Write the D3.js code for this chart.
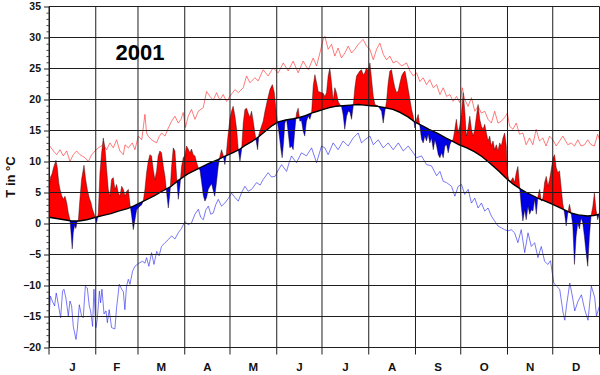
<!DOCTYPE html>
<html><head><meta charset="utf-8">
<script src="https://cdn.jsdelivr.net/npm/d3@7"></script>
<style>
html,body{margin:0;padding:0;background:#fff;}
svg{display:block;font-family:"Liberation Sans",Arial,sans-serif;}
</style></head><body>
<svg id="chart" width="600" height="375"></svg>
<script>
const chartTitle = "2001";
const yAxisTitle = "T in °C";
const monthLabels = ["J","F","M","A","M","J","J","A","S","O","N","D"];
const monthStartDays = [0,31,59,90,120,151,181,212,243,273,304,334,365];
const yTickValues = [35,30,25,20,15,10,5,0,-5,-10,-15,-20];

// daily mean temperature 2001 [day of year, °C]
const actualSeries = [
[0,5.5],[1,7.5],[2,8.0],[3,9.0],[4.6,10.2],[5.5,9.0],[6.5,6.5],[7.3,5.5],[8.4,4.5],[9.5,3.9],
[10.6,4.4],[11.7,3.4],[12.8,1.7],[13.9,0.6],[14.7,-1.8],[15.4,-4.1],[16.1,-1.5],[17.0,-0.3],[17.8,-0.8],[18.6,0.2],
[19.5,0.6],[20.5,3.9],[21.6,7.1],[23.2,9.4],[24.3,7.1],[25.4,5.5],[26.7,4.1],[27.8,3.4],[28.9,2.2],[30.0,1.5],
[31.6,0.1],[32.7,1.7],[33.8,8.2],[34.9,11.4],[36.0,13.8],[37.1,12.2],[38.2,8.7],[39.3,5.5],[40.4,4.4],[41.5,7.1],
[42.6,7.4],[43.7,5.5],[44.8,6.3],[45.9,5.0],[47.0,4.4],[48.2,6.0],[49.3,5.5],[50.4,4.4],[51.5,5.2],[52.6,5.5],
[53.7,3.1],[54.8,1.2],[55.9,-1.0],[57.0,0.6],[58.1,2.2],[59.2,2.5],[60.3,2.8],[61.4,3.0],[62.5,3.6],[63.6,5.5],
[64.7,8.2],[65.8,10.0],[66.9,11.1],[68.0,10.9],[69.1,8.7],[70.2,7.1],[71.3,8.4],[72.4,10.9],[73.5,11.7],[74.6,11.4],
[75.8,9.2],[76.9,7.6],[78.0,4.9],[79.1,2.5],[80.2,4.9],[81.3,9.2],[82.4,12.2],[83.5,11.7],[84.6,7.6],[85.7,3.9],
[86.8,6.0],[87.9,9.2],[89.0,10.6],[90.1,11.0],[91.2,12.5],[92.3,12.0],[93.4,11.4],[94.5,12.0],[95.6,11.1],[96.8,10.9],
[97.9,9.8],[99.0,9.0],[100.1,8.6],[101.2,6.6],[102.3,4.5],[103.4,3.6],[104.5,4.2],[105.6,5.5],[106.7,6.0],[107.8,6.4],
[108.9,5.3],[109.9,4.4],[111.0,6.5],[112.2,9.2],[113.3,10.8],[114.4,11.9],[115.5,11.0],[116.6,9.5],[117.5,11.0],[118.4,13.5],
[119.9,16.8],[121.0,18.1],[122.1,18.9],[123.3,17.3],[124.4,15.2],[125.5,11.9],[126.6,10.0],[127.7,11.9],[128.8,16.2],[129.9,18.4],
[131.0,18.6],[132.1,17.8],[133.2,17.1],[134.3,18.1],[135.4,16.5],[136.5,14.6],[137.6,13.0],[138.3,11.9],[139.2,14.4],[140.5,15.4],
[142.0,16.5],[143.2,18.1],[144.9,20.0],[146.5,21.6],[148.1,22.4],[149.4,21.1],[150.3,18.9],[151.2,16.8],[152.5,14.6],[153.8,11.9],
[154.6,10.6],[155.5,13.0],[156.4,16.2],[157.5,16.8],[158.6,14.6],[159.7,12.2],[160.8,12.5],[161.9,11.9],[163.0,15.1],[164.1,17.8],
[165.2,18.6],[166.3,16.5],[167.4,16.6],[168.5,14.9],[169.6,14.1],[170.7,16.5],[171.9,17.3],[173.0,16.8],[174.1,17.8],[175.2,22.2],
[176.3,24.0],[177.4,22.7],[178.5,21.3],[179.6,21.2],[180.7,21.1],[181.8,21.0],[182.9,20.5],[184.0,21.1],[185.1,23.8],[186.2,25.1],
[187.3,22.7],[188.4,19.7],[189.5,21.9],[190.6,21.1],[191.7,19.7],[192.8,19.2],[193.9,18.9],[195.0,17.6],[196.1,15.2],[197.3,17.3],
[198.4,18.1],[199.5,18.0],[200.6,16.8],[201.7,18.9],[202.8,21.9],[203.9,23.8],[206.1,24.6],[207.2,24.8],[208.3,24.0],[209.4,24.3],
[210.5,25.1],[211.6,24.6],[212.8,25.9],[213.9,23.2],[215.0,20.5],[216.1,19.2],[218.3,18.9],[220.5,18.1],[221.6,16.2],[222.7,18.1],
[223.8,19.7],[224.9,22.7],[226.0,24.6],[227.1,24.8],[228.2,23.2],[229.3,21.9],[230.5,21.1],[231.6,21.4],[232.7,22.7],[233.8,23.8],
[234.9,24.3],[236.0,24.6],[237.1,23.2],[238.2,21.6],[239.3,20.0],[240.4,18.4],[241.5,17.3],[242.6,15.4],[243.7,16.8],[244.8,17.6],
[245.9,15.7],[247.0,13.6],[248.1,13.0],[249.2,14.1],[250.3,13.3],[251.4,14.4],[252.5,13.0],[253.6,13.8],[254.8,11.9],[255.9,13.5],
[257.0,12.5],[258.1,11.1],[259.2,10.6],[260.3,11.4],[261.4,10.6],[262.5,12.5],[263.6,12.7],[264.7,11.4],[265.8,12.7],[266.9,13.3],
[268.0,13.6],[269.1,15.2],[270.1,16.8],[271.2,14.6],[272.3,15.7],[273.5,17.8],[274.6,21.1],[275.6,18.4],[276.7,14.1],[277.9,15.4],
[279.0,17.3],[280.1,15.2],[281.2,14.1],[282.3,15.2],[283.4,17.3],[284.5,19.2],[285.6,16.8],[286.7,15.7],[287.8,15.2],[288.9,16.0],
[290.0,14.6],[291.1,13.3],[292.2,14.1],[293.3,12.5],[294.4,13.3],[295.5,11.9],[296.6,12.7],[297.7,11.7],[298.8,13.0],[299.9,12.5],
[301.0,13.8],[302.1,14.6],[303.2,12.5],[303.9,8.2],[304.8,7.1],[306.1,6.8],[307.6,7.4],[308.7,6.6],[309.8,8.2],[310.9,9.2],
[312.0,6.0],[313.1,2.8],[314.2,0.4],[315.4,2.2],[316.4,0.6],[317.6,2.8],[318.7,1.5],[319.8,2.2],[320.9,2.0],[322.0,3.9],
[323.1,1.5],[324.2,4.4],[325.3,5.5],[326.4,3.6],[327.5,4.1],[328.6,6.6],[329.7,7.6],[330.8,6.0],[331.9,7.1],[333.0,8.7],
[334.2,10.6],[335.2,11.1],[336.3,9.0],[337.4,8.2],[338.5,8.5],[339.7,5.5],[340.7,3.1],[341.8,1.7],[342.9,-0.4],[344.0,1.7],
[345.1,3.1],[346.2,1.7],[347.3,-0.4],[348.4,-6.6],[349.5,-2.1],[350.6,0.1],[351.7,-0.9],[352.8,0.9],[353.9,0.1],[355.0,-2.1],
[356.1,-4.7],[357.2,-6.9],[358.3,-2.1],[359.4,1.2],[360.6,2.8],[361.6,4.9],[362.7,2.2],[363.8,0.6],[365.0,1.7]
];

// long-term daily mean
const meanSeries = [
[0,1.0],[5,0.8],[10,0.6],[15,0.4],[20,0.4],[25,0.6],[31,1.0],[36,1.3],[41,1.6],[46,2.0],
[52,2.4],[56,2.8],[60,3.3],[65,3.9],[70,4.5],[75,5.2],[81,6.0],[86,7.0],[92,8.0],[97,8.6],
[101,9.1],[106,9.7],[112,10.3],[116,10.8],[121,11.3],[126,11.9],[130,12.6],[135,13.3],[139,14.0],[143,14.8],
[148,15.8],[152,16.4],[157,16.7],[162,16.9],[166,17.1],[170,17.4],[174,17.8],[178,18.1],[182,18.4],[186,18.7],
[190,18.9],[195,19.0],[200,19.1],[205,19.2],[209,19.1],[213,19.0],[218,18.9],[222,18.7],[228,18.4],[233,17.9],
[238,17.2],[243,16.3],[248,15.7],[252,15.2],[258,14.5],[263,13.8],[268,13.2],[272,12.7],[277,12.2],[282,11.6],
[287,10.8],[292,9.8],[298,8.5],[304,7.1],[308,6.3],[313,5.5],[318,4.8],[324,4.1],[329,3.6],[334,3.1],
[340,2.4],[346,1.7],[351,1.4],[357,1.2],[361,1.3],[365,1.5]
];

// long-term daily maximum
const maxSeries = [
[0,12.7],[2.9,11.7],[5.1,11.1],[7.3,11.9],[9.5,10.9],[11.7,11.7],[13.9,10.0],[16.1,11.1],[18.3,11.7],[20.5,11.1],
[23.9,10.6],[26.1,10.0],[28.3,11.1],[30.5,11.7],[32.7,12.2],[36.0,12.7],[38.2,11.9],[40.4,13.0],[42.6,12.2],[44.8,13.5],
[47.0,11.7],[49.3,11.1],[50.4,12.7],[52.6,12.2],[55.2,13.0],[57.0,11.9],[59.2,14.1],[61.5,13.5],[63.6,17.6],[64.7,14.6],
[66.0,14.0],[68.0,13.5],[71.3,13.0],[73.0,14.0],[74.7,14.6],[76.9,14.1],[79.1,15.4],[81.3,16.5],[83.5,17.3],[85.7,16.2],
[87.5,16.8],[89.0,17.9],[90.5,15.5],[92.3,17.3],[94.5,18.4],[96.8,16.8],[99.0,18.1],[102.3,18.7],[104.5,21.3],[106.7,20.5],
[108.9,19.9],[111.1,21.1],[113.3,19.9],[115.5,20.8],[117.7,19.7],[119.9,20.5],[123.3,21.6],[125.5,21.1],[128.8,21.9],[131.0,23.8],
[133.2,22.7],[136.5,23.5],[138.7,23.0],[142.0,24.8],[145.3,23.8],[148.6,25.1],[152.0,24.3],[155.3,25.9],[158.6,24.6],[161.9,26.2],
[165.2,24.3],[168.5,26.2],[171.9,24.8],[175.2,26.7],[177.4,25.4],[179.6,27.5],[181.8,29.7],[182.9,30.2],[185.1,28.1],[187.3,28.9],
[189.5,27.0],[191.7,28.3],[193.9,26.7],[196.2,27.5],[198.4,28.6],[200.6,27.5],[202.8,28.1],[205.0,28.9],[208.3,29.7],[210.5,28.6],
[212.8,28.1],[215.0,26.4],[217.2,28.1],[219.4,29.1],[221.6,27.3],[223.8,26.4],[226.0,27.0],[228.2,25.9],[230.5,26.2],[233.8,25.4],
[237.1,25.9],[239.3,24.6],[241.5,23.8],[243.7,24.3],[245.9,22.9],[248.1,23.5],[250.3,22.4],[252.5,23.2],[254.8,21.9],[257.0,22.4],
[259.2,20.8],[261.4,21.9],[263.6,20.5],[265.8,20.8],[268.0,19.7],[270.2,20.5],[272.4,19.5],[274.0,21.9],[275.6,20.0],[277.9,18.9],
[280.1,20.3],[282.3,18.1],[284.5,18.9],[286.7,17.8],[288.9,18.1],[291.1,16.8],[293.3,16.2],[295.5,18.1],[297.7,16.2],[299.9,16.5],
[302.1,17.1],[303.9,17.8],[305.4,15.7],[307.6,15.2],[309.8,16.2],[312.0,14.4],[314.2,14.6],[316.4,12.7],[318.6,13.8],[320.8,12.7],
[323.0,15.2],[325.2,13.3],[327.4,13.8],[329.6,12.5],[331.9,14.1],[334.1,13.5],[336.3,12.5],[338.5,13.3],[340.7,14.1],[344.0,12.7],
[346.2,13.0],[348.4,12.5],[350.6,13.5],[352.8,12.5],[355.0,12.7],[357.2,13.5],[359.4,12.7],[361.6,12.5],[363.8,14.4],[365,13.5]
];

// long-term daily minimum
const minSeries = [
[0,-15.2],[0.9,-11.7],[2.2,-12.5],[3.7,-13.3],[4.8,-11.2],[5.8,-12.5],[7.7,-15.2],[9.0,-10.9],[9.9,-10.6],[11.2,-12.0],
[12.8,-14.9],[13.9,-12.5],[15.0,-13.3],[16.1,-16.6],[17.9,-18.7],[18.8,-17.0],[20.1,-13.1],[21.6,-14.9],[22.7,-15.2],[24.1,-10.1],
[25.4,-10.4],[26.7,-13.3],[27.6,-14.1],[28.9,-16.6],[29.8,-10.6],[31.1,-16.8],[32.0,-15.5],[33.4,-10.9],[34.2,-12.8],[35.1,-10.6],
[36.5,-14.6],[37.8,-14.1],[38.7,-16.0],[39.9,-13.9],[41.5,-16.8],[43.7,-17.0],[44.8,-13.6],[46.6,-9.8],[48.2,-10.6],[49.3,-11.0],
[50.3,-13.9],[51.4,-10.1],[52.6,-9.0],[53.7,-9.8],[55.4,-7.7],[57.0,-6.9],[58.6,-6.6],[60.3,-6.3],[62.1,-6.1],[63.6,-6.4],
[64.7,-5.5],[66.2,-6.9],[68.0,-4.7],[69.6,-6.6],[71.4,-4.5],[73.0,-5.2],[74.6,-3.7],[76.9,-3.1],[79.1,-2.6],[81.3,-2.0],
[83.5,-2.5],[85.7,-1.5],[87.8,-0.8],[90.1,0.3],[92.3,-0.2],[94.5,0.1],[96.8,1.5],[99.0,2.3],[100.6,1.0],[102.3,0.6],
[104.0,2.2],[105.6,2.8],[107.3,1.5],[108.9,1.7],[110.5,3.0],[112.2,3.9],[114.4,2.8],[116.6,3.3],[118.8,4.0],[121.0,4.9],
[123.3,4.2],[125.5,3.6],[127.7,5.0],[129.9,6.0],[132.1,5.2],[134.3,5.5],[137.6,6.6],[140.0,6.2],[142.0,7.1],[145.3,8.2],
[147.5,7.5],[149.8,7.6],[152.0,8.6],[154.2,9.5],[157.5,8.4],[159.2,9.8],[160.8,10.9],[164.1,9.8],[167.4,11.4],[170.7,10.9],
[174.1,12.2],[177.4,9.8],[180.7,12.5],[182.9,12.2],[185.1,11.1],[188.4,13.0],[191.7,11.9],[195.0,13.3],[198.4,12.5],[201.7,13.8],
[205.0,14.6],[207.2,13.0],[209.4,13.5],[212.8,14.1],[215.0,12.7],[218.3,13.5],[221.6,12.2],[224.9,13.0],[228.2,11.9],[231.6,13.0],
[234.9,11.7],[238.2,12.5],[241.5,11.4],[243.7,10.6],[247.0,10.9],[250.3,9.5],[253.6,9.3],[257.0,7.7],[259.2,8.4],[261.4,6.8],
[263.6,6.6],[266.9,6.0],[269.1,4.4],[271.3,6.0],[273.5,6.3],[275.6,4.7],[277.9,5.5],[280.1,3.3],[282.3,4.1],[284.5,2.5],
[286.7,3.3],[288.9,2.0],[291.1,2.5],[293.3,1.2],[295.5,0.4],[297.7,-0.4],[299.9,-0.7],[302.1,-1.0],[304.3,-1.2],[306.5,-1.0],
[308.7,-1.5],[310.9,-3.1],[313.1,-1.0],[315.4,-4.7],[317.6,-1.5],[319.8,-3.7],[322.0,-3.1],[324.2,-5.5],[326.4,-3.7],[328.6,-6.1],
[330.8,-6.6],[332.5,-6.0],[334.7,-9.6],[336.5,-10.1],[338.6,-10.6],[340.8,-14.3],[342.0,-15.6],[343.1,-13.3],[345.3,-9.6],[347.0,-11.7],
[348.6,-14.1],[350.8,-12.5],[353.0,-11.5],[355.2,-13.9],[357.4,-15.6],[359.6,-10.1],[361.8,-11.9],[363.0,-14.9],[365,-13.3]
];

const svg = d3.select("#chart");
const L = 49, R = 599.5, T = 6.5, B = 347.5;
const x = d3.scaleLinear().domain([0, 365]).range([L, R]);
const y = d3.scaleLinear().domain([-20, 35]).range([B, T]);
const gridColor = "#1e1e1e";

const defs = svg.append("defs");
defs.append("clipPath").attr("id", "plotClip").append("rect")
  .attr("x", L).attr("y", T).attr("width", R - L).attr("height", B - T);

const areaBelowActual = d3.area().x(d => x(d[0])).y0(420).y1(d => y(d[1]));
const areaAboveActual = d3.area().x(d => x(d[0])).y0(-60).y1(d => y(d[1]));
defs.append("clipPath").attr("id", "belowActual").append("path").attr("d", areaBelowActual(actualSeries));
defs.append("clipPath").attr("id", "aboveActual").append("path").attr("d", areaAboveActual(actualSeries));

const plot = svg.append("g").attr("clip-path", "url(#plotClip)");

// fills: above mean -> red, below mean -> blue
plot.append("g").attr("clip-path", "url(#belowActual)").append("path")
  .attr("d", d3.area().x(d => x(d[0])).y0(-60).y1(d => y(d[1]))(meanSeries))
  .attr("fill", "#ff0000");
plot.append("g").attr("clip-path", "url(#aboveActual)").append("path")
  .attr("d", d3.area().x(d => x(d[0])).y0(420).y1(d => y(d[1]))(meanSeries))
  .attr("fill", "#0000e6");

// grid
const grid = svg.append("g");
grid.selectAll("line.h").data(yTickValues).join("line")
  .attr("x1", L).attr("x2", R).attr("y1", d => y(d)).attr("y2", d => y(d))
  .attr("stroke", gridColor).attr("stroke-width", 1);
grid.selectAll("line.v").data(monthStartDays).join("line")
  .attr("x1", d => x(d)).attr("x2", d => x(d)).attr("y1", T).attr("y2", B + 7)
  .attr("stroke", gridColor).attr("stroke-width", 1);

const line = d3.line().x(d => x(d[0])).y(d => y(d[1]));
plot.append("path").attr("d", line(maxSeries)).attr("fill", "none")
  .attr("stroke", "#ff3030").attr("stroke-width", 0.75).attr("stroke-opacity", 0.85);
plot.append("path").attr("d", line(minSeries)).attr("fill", "none")
  .attr("stroke", "#2d2df0").attr("stroke-width", 0.75).attr("stroke-opacity", 0.85);
plot.append("path").attr("d", line(actualSeries)).attr("fill", "none")
  .attr("stroke", "#200000").attr("stroke-width", 0.6).attr("stroke-opacity", 0.7);
plot.append("path").attr("d", line(meanSeries)).attr("fill", "none")
  .attr("stroke", "#000").attr("stroke-width", 1.4).attr("stroke-linejoin", "round");

// y axis with minor ticks
const yAxis = d3.axisLeft(y).tickValues(yTickValues).tickSize(5).tickSizeOuter(0).tickPadding(3);
const yg = svg.append("g").attr("transform", `translate(${L},0)`).call(yAxis);
yg.select(".domain").attr("stroke", gridColor);
yg.selectAll(".tick line").attr("stroke", gridColor);
yg.selectAll(".tick text").attr("font-size", 10.5).attr("font-weight", "bold")
  .attr("font-family", "Liberation Sans, Arial, sans-serif").attr("fill", "#111");
const minorAxis = d3.axisLeft(y).tickValues(d3.range(-20, 36).filter(v => v % 5 !== 0))
  .tickSize(2.5).tickFormat("");
const mg = svg.append("g").attr("transform", `translate(${L},0)`).call(minorAxis);
mg.select(".domain").remove();
mg.selectAll(".tick line").attr("stroke", "#444");

// month labels
svg.append("g").selectAll("text").data(monthLabels).join("text")
  .attr("x", (d, i) => x((monthStartDays[i] + monthStartDays[i + 1]) / 2))
  .attr("y", 371).attr("text-anchor", "middle")
  .attr("font-size", 11.5).attr("font-weight", "bold").attr("fill", "#111")
  .text(d => d);

// titles
svg.append("text").attr("x", 140).attr("y", 60).attr("text-anchor", "middle")
  .attr("font-size", 22).attr("font-weight", "bold").attr("fill", "#000").text(chartTitle);
svg.append("text").attr("transform", `translate(15,${(T + B) / 2}) rotate(-90)`)
  .attr("text-anchor", "middle").attr("font-size", 13).attr("font-weight", "bold")
  .attr("fill", "#111").text(yAxisTitle);
</script>
</body></html>
